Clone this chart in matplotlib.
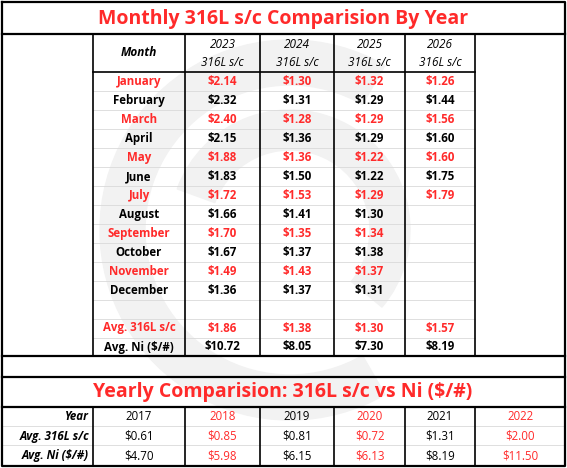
import matplotlib.pyplot as plt
from matplotlib.patches import Wedge

months = ["January", "February", "March", "April", "May", "June", "July",
          "August", "September", "October", "November", "December"]
years = ["2023", "2024", "2025", "2026"]
v2023 = ["$2.14", "$2.32", "$2.40", "$2.15", "$1.88", "$1.83", "$1.72", "$1.66", "$1.70", "$1.67", "$1.49", "$1.36"]
v2024 = ["$1.30", "$1.31", "$1.28", "$1.36", "$1.36", "$1.50", "$1.53", "$1.41", "$1.35", "$1.37", "$1.43", "$1.37"]
v2025 = ["$1.32", "$1.29", "$1.29", "$1.29", "$1.22", "$1.22", "$1.29", "$1.30", "$1.34", "$1.38", "$1.37", "$1.31"]
v2026 = ["$1.26", "$1.44", "$1.56", "$1.60", "$1.60", "$1.75", "$1.79", "", "", "", "", ""]
avg_316 = ["$1.86", "$1.38", "$1.30", "$1.57"]
avg_ni = ["$10.72", "$8.05", "$7.30", "$8.19"]

hist_years = ["2017", "2018", "2019", "2020", "2021", "2022"]
hist_316 = ["$0.61", "$0.85", "$0.81", "$0.72", "$1.31", "$2.00"]
hist_ni = ["$4.70", "$5.98", "$6.15", "$6.13", "$8.19", "$11.50"]

RED = "#ff2a2a"
FONT = "Open Sans"

fig = plt.figure(figsize=(5.67, 4.68), dpi=100)
ax = fig.add_axes([0, 0, 1, 1])
ax.set_xlim(0, 567)
ax.set_ylim(468, 0)
ax.axis("off")

# faint watermark
ax.add_patch(Wedge((290, 230), 190, 60, 300, width=45, color="#f2f2f2", zorder=0))
ax.add_patch(Wedge((290, 230), 120, 200, 40, width=40, color="#f2f2f2", zorder=0))

cols = [93, 185, 260, 334, 405, 475]
row_y = [81.7 + i * 19 for i in range(12)]

def t(x, y, s, color="black", **kw):
    ax.text(x, y, s, color=color, ha=kw.pop("ha", "center"), va="center",
            family=FONT, fontsize=kw.pop("fs", 8.3), **kw)

# light grid
for i in range(14):
    y = 91.2 + i * 19
    ax.plot([93, 475], [y, y], color="#d9d9d9", lw=0.6, zorder=1)

# title
t(283, 19, "Monthly 316L s/c Comparision By Year", RED, fs=14, weight="bold")

# header
t(139, 52, "Month", weight="bold", style="italic", fs=8.5)
for i, yr in enumerate(years):
    cx = (cols[i + 1] + cols[i + 2]) / 2
    t(cx, 45, yr, style="italic", fs=8.5)
    t(cx, 63, "316L s/c", style="italic", fs=8.5)

series = [v2023, v2024, v2025, v2026]
for r, m in enumerate(months):
    c = RED if r % 2 == 0 else "black"
    t(139, row_y[r], m, c, weight="bold")
    for i, s in enumerate(series):
        cx = (cols[i + 1] + cols[i + 2]) / 2
        t(cx, row_y[r], s[r], c, weight="bold")

t(139, 328, "Avg. 316L s/c", RED, weight="bold")
t(139, 347, "Avg. Ni ($/#)", weight="bold")
for i in range(4):
    cx = (cols[i + 1] + cols[i + 2]) / 2
    t(cx, 328, avg_316[i], RED, weight="bold")
    t(cx, 347, avg_ni[i], weight="bold")

# table lines (top)
lw = 1.6
for x in cols:
    ax.plot([x, x], [34, 356], color="black", lw=1.2, zorder=2)
ax.plot([93, 475], [72, 72], color="black", lw=1.2, zorder=2)

# bottom section
t(283, 392, "Yearly Comparision: 316L s/c vs Ni ($/#)", RED, fs=14, weight="bold")
bcols = [2, 93, 185, 260, 334, 405, 475, 565]
t(89, 417, "Year", weight="bold", style="italic", ha="right")
t(89, 436.5, "Avg. 316L s/c", weight="bold", style="italic", ha="right")
t(89, 455.5, "Avg. Ni ($/#)", weight="bold", style="italic", ha="right")
for i, yr in enumerate(hist_years):
    cx = (bcols[i + 1] + bcols[i + 2]) / 2
    c = RED if i % 2 == 1 else "black"
    t(cx, 417, yr, c)
    t(cx, 436.5, hist_316[i], c)
    t(cx, 455.5, hist_ni[i], c)
for x in bcols[1:-1]:
    ax.plot([x, x], [407, 466], color="black", lw=1.2, zorder=2)
for y in [426, 445]:
    ax.plot([2, 565], [y, y], color="#d9d9d9", lw=0.6, zorder=1)

# outer frame & thick separators
for y in [34, 356, 377, 407]:
    ax.plot([2, 565], [y, y], color="black", lw=lw, zorder=3)
ax.plot([2, 565, 565, 2, 2], [2, 2, 466, 466, 2], color="black", lw=lw, zorder=3)

fig.savefig("out.png", dpi=100)
